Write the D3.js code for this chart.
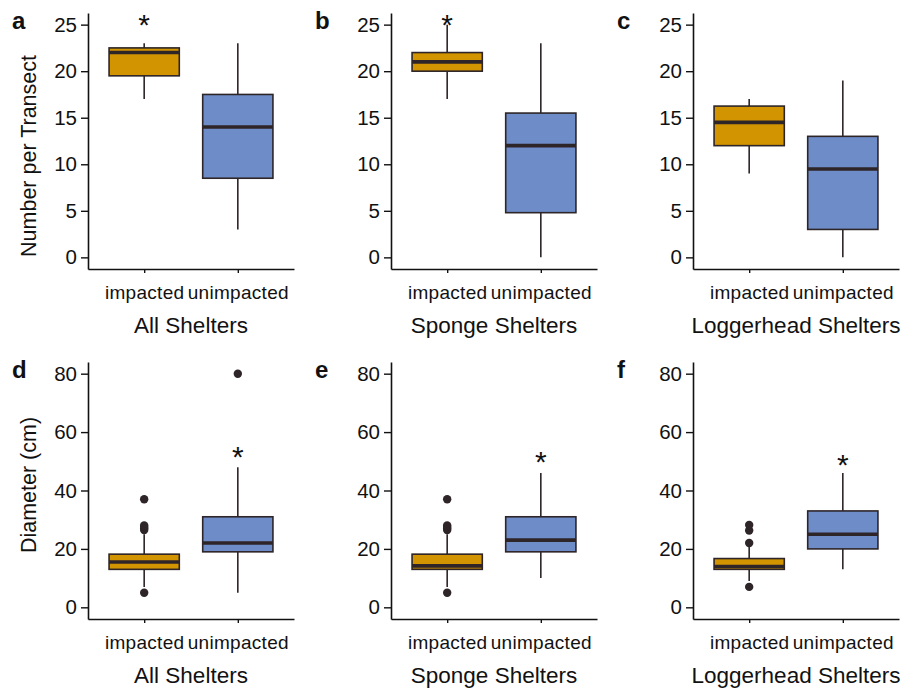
<!DOCTYPE html>
<html>
<head>
<meta charset="utf-8">
<script src="https://cdn.jsdelivr.net/npm/d3@7"></script>
<style>
  html, body { margin: 0; padding: 0; background: #ffffff; }
  svg { display: block; font-family: "Liberation Sans", Arial, Helvetica, sans-serif; }
</style>
</head>
<body>
<svg id="chart" width="906" height="692"></svg>
<script>
// Shelter groups and categories
const categories = ["impacted", "unimpacted"];
const shelterTypes = ["All Shelters", "Sponge Shelters", "Loggerhead Shelters"];
const panelLetters = [["a", "b", "c"], ["d", "e", "f"]];

// Axis ticks
const countTicks = [0, 5, 10, 15, 20, 25];
const diameterTicks = [0, 20, 40, 60, 80];

// Box summaries: [lower whisker, Q1, median, Q3, upper whisker]
// Number per transect
const countAllImpacted = [17, 19.5, 22, 22.5, 23];
const countAllUnimpacted = [3, 8.5, 14, 17.5, 23];
const countSpongeImpacted = [17, 20, 21, 22, 25];
const countSpongeUnimpacted = [0, 4.8, 12, 15.5, 23];
const countLoggerImpacted = [9, 12, 14.5, 16.25, 17];
const countLoggerUnimpacted = [0, 3, 9.5, 13, 19];

// Diameter (cm)
const diamAllImpacted = [7, 13, 15.5, 18.2, 25];
const diamAllUnimpacted = [5, 19, 22, 31, 48];
const diamSpongeImpacted = [7, 13, 14.2, 18.2, 25];
const diamSpongeUnimpacted = [10, 19, 23, 31, 46];
const diamLoggerImpacted = [9, 13, 14, 16.7, 20.8];
const diamLoggerUnimpacted = [13, 20, 25, 33, 46];

// Outlying observations
const diamAllImpactedOut = [5, 26.5, 27, 27.5, 28, 37];
const diamAllUnimpactedOut = [80];
const diamSpongeImpactedOut = [5, 26.5, 27, 27.5, 28, 37];
const diamSpongeUnimpactedOut = [];
const diamLoggerImpactedOut = [7, 22, 26.3, 28.2];
const diamLoggerUnimpactedOut = [];

// Significance markers: value at which the asterisk sits
const countSig = [25.75, 25.75, null];      // over "impacted"
const diamSig = [53.9, 52, 51.2];           // over "unimpacted"

const colors = { impacted: "#D29400", unimpacted: "#6E8CC8" };
const ink = "#2E2528";

const rows = [
  {
    title: "Number per Transect",
    ticks: countTicks,
    domain: [-1.25, 26.25],
    top: 13, bottom: 269,
    titleCenter: 156,
    boxes: [
      [countAllImpacted, countAllUnimpacted],
      [countSpongeImpacted, countSpongeUnimpacted],
      [countLoggerImpacted, countLoggerUnimpacted]
    ],
    outliers: [[[], []], [[], []], [[], []]],
    sig: countSig, sigCat: "impacted"
  },
  {
    title: "Diameter (cm)",
    ticks: diameterTicks,
    domain: [-4, 84],
    top: 362, bottom: 619,
    titleCenter: 485,
    boxes: [
      [diamAllImpacted, diamAllUnimpacted],
      [diamSpongeImpacted, diamSpongeUnimpacted],
      [diamLoggerImpacted, diamLoggerUnimpacted]
    ],
    outliers: [
      [diamAllImpactedOut, diamAllUnimpactedOut],
      [diamSpongeImpactedOut, diamSpongeUnimpactedOut],
      [diamLoggerImpactedOut, diamLoggerUnimpactedOut]
    ],
    sig: diamSig, sigCat: "unimpacted"
  }
];

const colLeft = [88, 391, 693];
const panelWidth = 206;

const svg = d3.select("#chart");

rows.forEach((row, ri) => {
  const y = d3.scaleLinear().domain(row.domain).range([row.bottom, row.top]);

  // row y-axis title
  svg.append("text")
    .attr("transform", `translate(36,${row.titleCenter}) rotate(-90)`)
    .attr("text-anchor", "middle")
    .attr("font-size", 21.5)
    .attr("fill", "#111")
    .text(row.title);

  colLeft.forEach((x0, ci) => {
    const x = d3.scalePoint()
      .domain(categories)
      .range([x0, x0 + panelWidth])
      .padding(0.6);
    const boxW = x.step() * 0.75;

    const g = svg.append("g");

    // panel letter
    svg.append("text")
      .attr("x", x0 - 76)
      .attr("y", row.top + 16)
      .attr("font-size", 24)
      .attr("font-weight", "bold")
      .attr("fill", "#111")
      .text(panelLetters[ri][ci]);

    // boxes
    categories.forEach((cat, k) => {
      const s = row.boxes[ci][k];
      const cx = x(cat);
      const bg = g.append("g");
      // whiskers
      bg.append("line")
        .attr("x1", cx).attr("x2", cx)
        .attr("y1", y(s[0])).attr("y2", y(s[1]))
        .attr("stroke", ink).attr("stroke-width", 1.6);
      bg.append("line")
        .attr("x1", cx).attr("x2", cx)
        .attr("y1", y(s[3])).attr("y2", y(s[4]))
        .attr("stroke", ink).attr("stroke-width", 1.6);
      // box
      bg.append("rect")
        .attr("x", cx - boxW / 2)
        .attr("y", y(s[3]))
        .attr("width", boxW)
        .attr("height", y(s[1]) - y(s[3]))
        .attr("fill", colors[cat])
        .attr("stroke", ink)
        .attr("stroke-width", 1.6);
      // median
      bg.append("line")
        .attr("x1", cx - boxW / 2).attr("x2", cx + boxW / 2)
        .attr("y1", y(s[2])).attr("y2", y(s[2]))
        .attr("stroke", ink).attr("stroke-width", 3.6);
      // outliers
      bg.selectAll("circle")
        .data(row.outliers[ci][k])
        .join("circle")
        .attr("cx", cx)
        .attr("cy", d => y(d))
        .attr("r", 4.2)
        .attr("fill", ink);
    });

    // significance asterisk
    if (row.sig[ci] != null) {
      svg.append("text")
        .attr("x", x(row.sigCat))
        .attr("y", y(row.sig[ci]) + 17)
        .attr("text-anchor", "middle")
        .attr("font-size", 30)
        .attr("fill", "#111")
        .text("*");
    }

    // y axis
    const ya = g.append("g")
      .attr("transform", `translate(${x0},0)`)
      .call(d3.axisLeft(y).tickValues(row.ticks).tickSize(7).tickPadding(4).tickSizeOuter(0));
    ya.select(".domain").attr("stroke", "#111").attr("stroke-width", 1.6);
    ya.selectAll(".tick line").attr("stroke", "#111").attr("stroke-width", 1.4);
    ya.selectAll(".tick text")
      .attr("font-size", 20.5)
      .attr("font-family", "Liberation Sans, Arial, sans-serif")
      .attr("fill", "#111");

    // x axis
    const xa = g.append("g")
      .attr("transform", `translate(0,${row.bottom})`)
      .call(d3.axisBottom(x).tickSize(4).tickPadding(13).tickSizeOuter(0));
    xa.select(".domain").attr("stroke", "#111").attr("stroke-width", 1.6);
    xa.selectAll(".tick line").attr("stroke", "#111").attr("stroke-width", 1.4);
    xa.selectAll(".tick text")
      .attr("font-size", 19)
      .attr("letter-spacing", 0.3)
      .attr("font-family", "Liberation Sans, Arial, sans-serif")
      .attr("fill", "#111");

    // shelter type title
    svg.append("text")
      .attr("x", x0 + panelWidth / 2)
      .attr("y", row.bottom + 64)
      .attr("text-anchor", "middle")
      .attr("font-size", 22.5)
      .attr("fill", "#111")
      .text(shelterTypes[ci]);
  });
});
</script>
</body>
</html>
